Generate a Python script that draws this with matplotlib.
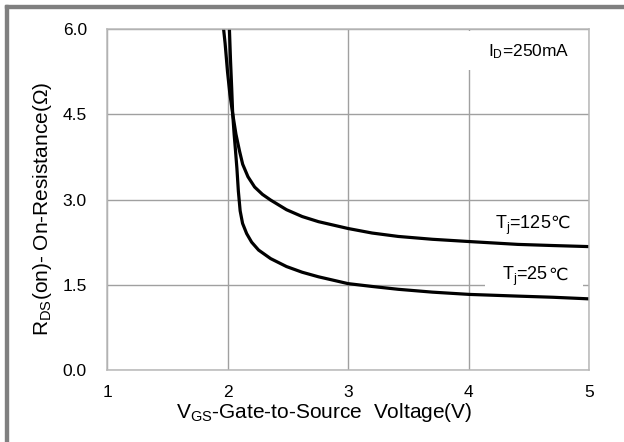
import matplotlib.pyplot as plt
from matplotlib.patches import Rectangle

plt.rcParams['font.family'] = ['Liberation Sans', 'DejaVu Sans']
plt.rcParams['mathtext.fontset'] = 'custom'
plt.rcParams['mathtext.rm'] = 'Liberation Sans'
plt.rcParams['mathtext.it'] = 'Liberation Sans'

# Tj = 125C curve
vgs_125 = [1.965, 1.98, 2.00, 2.02, 2.043, 2.07, 2.10, 2.126, 2.17, 2.225, 2.29, 2.358, 2.49,
           2.62, 2.755, 3.0, 3.2, 3.417, 3.7, 4.007, 4.41, 4.7, 5.02]
rds_125 = [6.05, 5.75, 5.25, 4.85, 4.51, 4.15, 3.85, 3.62, 3.40, 3.22, 3.09, 2.99, 2.82,
           2.70, 2.61, 2.49, 2.41, 2.35, 2.30, 2.26, 2.21, 2.19, 2.17]

# Tj = 25C curve
vgs_25 = [2.015, 2.025, 2.035, 2.043, 2.055, 2.066, 2.078, 2.09, 2.105, 2.125, 2.159, 2.20, 2.258,
          2.358, 2.49, 2.62, 2.755, 3.0, 3.2, 3.417, 3.7, 4.007, 4.41, 4.7, 5.02]
rds_25 = [6.05, 5.45, 4.95, 4.51, 4.15, 3.87, 3.55, 3.15, 2.80, 2.58, 2.40, 2.25, 2.11,
          1.96, 1.82, 1.72, 1.64, 1.52, 1.47, 1.42, 1.37, 1.33, 1.30, 1.28, 1.25]

x_ticks = [1, 2, 3, 4, 5]
y_ticks = [0.0, 1.5, 3.0, 4.5, 6.0]

fig = plt.figure(figsize=(6.24, 4.42), dpi=100)
ax = fig.add_axes([107 / 624, 1 - 370 / 442, 482 / 624, 341 / 442])

# grey frame on the left and top of the picture
fig.patches.append(Rectangle((5 / 624, 0), 3 / 624, 437 / 442, transform=fig.transFigure,
                             color='#808080', zorder=0))
fig.patches.append(Rectangle((5 / 624, 434 / 442), 619 / 624, 3 / 442, transform=fig.transFigure,
                             color='#808080', zorder=0))

ax.plot(vgs_125, rds_125, color='black', lw=2.3, solid_capstyle='butt', solid_joinstyle='round')
ax.plot(vgs_25, rds_25, color='black', lw=2.3, solid_capstyle='butt', solid_joinstyle='round')

ax.set_xlim(1, 5)
ax.set_ylim(0, 6)
ax.set_xticks(x_ticks)
ax.set_yticks(y_ticks)
ax.set_xticklabels([str(v) for v in x_ticks])
ax.set_yticklabels([f'{v:.1f}' for v in y_ticks])
ax.tick_params(axis='both', length=0, labelsize=12.5)
ax.tick_params(axis='y', pad=14.5)
ax.tick_params(axis='x', pad=11)
ax.grid(True, color='#a0a0a0', lw=1.0)
ax.set_axisbelow(True)
for sp in ax.spines.values():
    sp.set_color('#b8b8b8')
    sp.set_linewidth(1.1)

ax.set_xlabel(r'V$_{\mathrm{GS}}$-Gate-to-Source  Voltage(V)', fontsize=15)
ax.xaxis.set_label_coords(0.45, -0.09)
ax.set_ylabel(r'R$_{\mathrm{DS}}$(on)- On-Resistance($\Omega$)', fontsize=15)
ax.yaxis.set_label_coords(-0.11, 0.472)

# white boxes behind the labels hide the grid there
for (bx, by, bw, bh) in [(3.9, 5.28, 1.03, 0.68), (4.14, 1.45, 0.81, 0.40)]:
    ax.add_patch(Rectangle((bx, by), bw, bh, facecolor='white', edgecolor='none', zorder=1.5))

ax.text(4.5, 5.6, r'I$_{\mathrm{D}}$=250mA', fontsize=12.5, ha='center', va='center')

# the degree sign is drawn in its own text so DejaVu Sans can supply it
for tx, ty, lab in [(4.45, 2.55, r'T$_{\mathrm{j}}$=125'), (4.47, 1.64, r'T$_{\mathrm{j}}$=25')]:
    t = ax.text(tx, ty, lab, fontsize=13, ha='center', va='center')
    ax.annotate('℃', xy=(1, 0), xycoords=t, xytext=(-0.2, 3.6), textcoords='offset points',
                ha='left', va='bottom', fontsize=12.5, family='DejaVu Sans')

plt.savefig('out.png', dpi=100)
